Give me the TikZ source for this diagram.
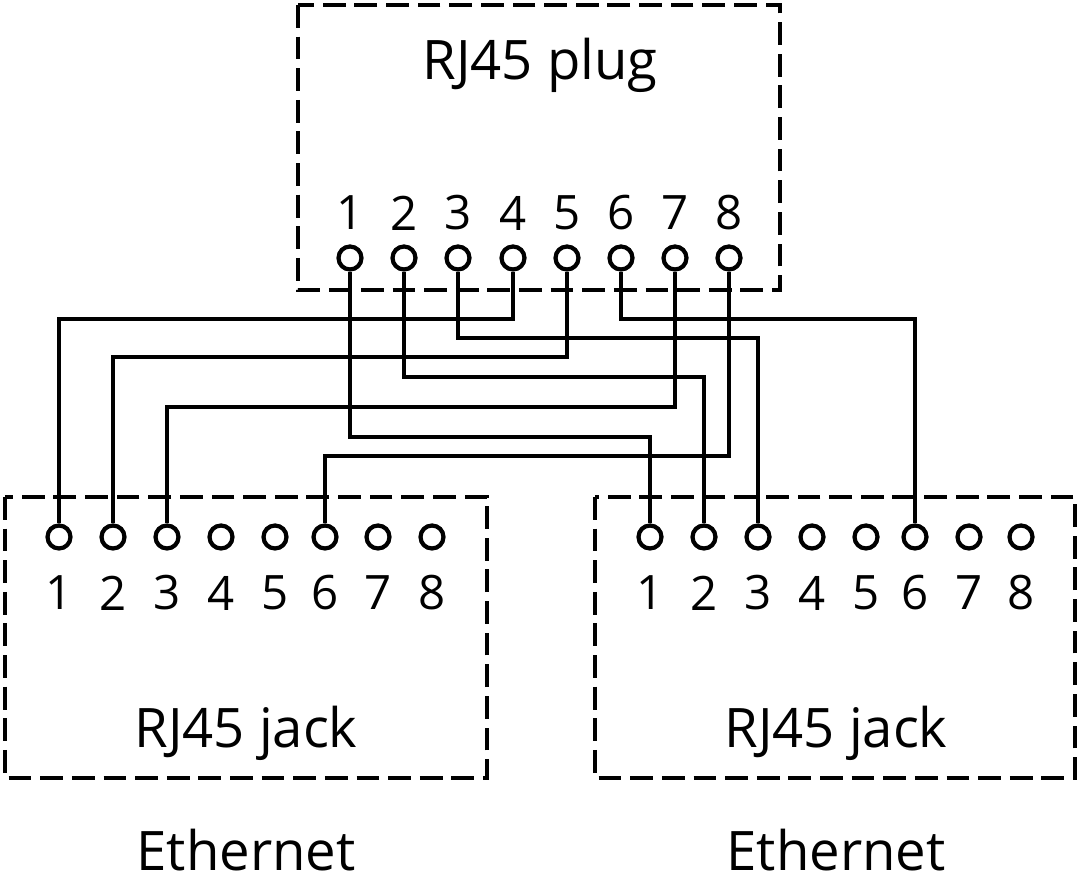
\documentclass[tikz,border=0pt]{standalone}
\usepackage{fontspec}
\setmainfont{Open Sans}
\begin{document}
\begin{tikzpicture}[x=0.02cm,y=-0.02cm,
  box/.style={draw,line width=2.4pt,dash pattern=on 13pt off 5pt},
  pin/.style={circle,draw,line width=2.4pt,minimum size=0.46cm,inner sep=0pt},
  wire/.style={line width=2.6pt},
  num/.style={font=\fontsize{27}{29}\selectfont},
  lab/.style={font=\fontsize{31}{34}\selectfont}]
\useasboundingbox (0,0) rectangle (1080,878);
\draw[box] (298,5) rectangle (780,290);
\draw[box] (5,497) rectangle (487,778);
\draw[box] (595,497) rectangle (1075,778);
\node[lab] (tplug) at (540,65) {RJ45 plug};
\node[lab] (tl) at (246,733) {RJ45 jack};
\node[lab] (tr) at (836,733) {RJ45 jack};
\node[lab] (el) at (246,850) {Ethernet};
\node[lab] (er) at (836,850) {Ethernet};
\foreach \i/\x in {1/350,2/404,3/458,4/513,5/567,6/621,7/675,8/729}{
  \node[pin] (p\i) at (\x,258) {};
  \node[num] (pn\i) at (\x,213) {\i};}
\foreach \i/\x in {1/59,2/113,3/167,4/221,5/275,6/325,7/378,8/432}{
  \node[pin] (l\i) at (\x,537) {};
  \node[num] (ln\i) at (\x,593) {\i};}
\foreach \i/\x in {1/650,2/704,3/758,4/812,5/866,6/915,7/969,8/1021}{
  \node[pin] (r\i) at (\x,537) {};
  \node[num] (rn\i) at (\x,593) {\i};}
\foreach \n/\y in {a/319,b/338,c/357,d/377,e/407,f/437,g/456}{\coordinate (h\n) at (0,\y);}
\draw[wire] (p4.south) -- (p4 |- ha) -- (l1 |- ha) -- (l1.north);
\draw[wire] (p6.south) -- (p6 |- ha) -- (r6 |- ha) -- (r6.north);
\draw[wire] (p3.south) -- (p3 |- hb) -- (r3 |- hb) -- (r3.north);
\draw[wire] (p5.south) -- (p5 |- hc) -- (l2 |- hc) -- (l2.north);
\draw[wire] (p2.south) -- (p2 |- hd) -- (r2 |- hd) -- (r2.north);
\draw[wire] (p7.south) -- (p7 |- he) -- (l3 |- he) -- (l3.north);
\draw[wire] (p1.south) -- (p1 |- hf) -- (r1 |- hf) -- (r1.north);
\draw[wire] (p8.south) -- (p8 |- hg) -- (l6 |- hg) -- (l6.north);
\end{tikzpicture}
\end{document}
